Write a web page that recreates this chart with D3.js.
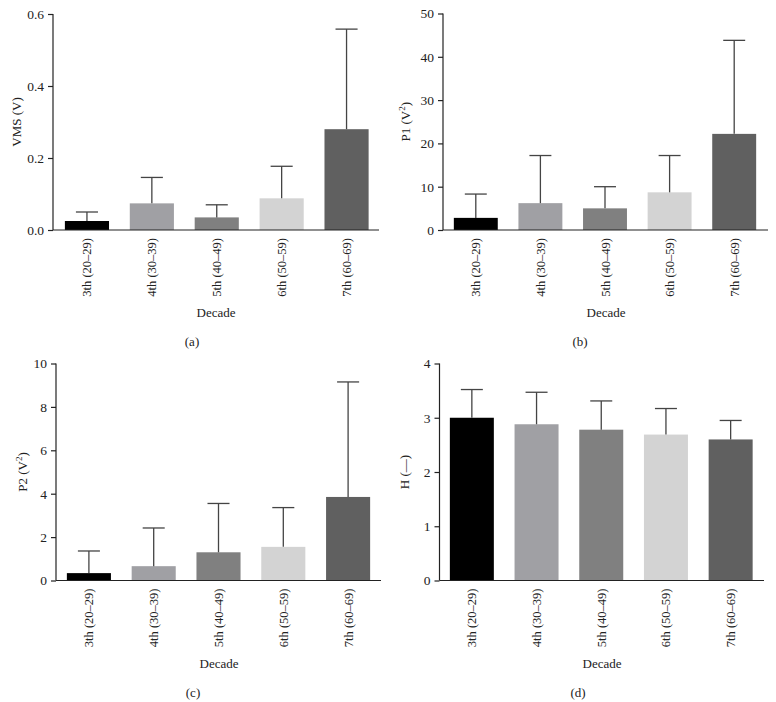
<!DOCTYPE html>
<html><head><meta charset="utf-8">
<script src="https://cdn.jsdelivr.net/npm/d3@7"></script>
<style>
body{margin:0;background:#fff;}
svg{display:block;font-family:"Liberation Serif","Times New Roman",serif;}
</style></head>
<body><svg id="c" width="776" height="702"></svg>
<script>
const categories = ["3th (20–29)", "4th (30–39)", "5th (40–49)", "6th (50–59)", "7th (60–69)"];
const barColors = ["#000000", "#a0a0a4", "#808080", "#d3d3d3", "#606060"];

const vmsMean = [0.025, 0.074, 0.035, 0.088, 0.28];
const vmsSD   = [0.025, 0.072, 0.035, 0.089, 0.278];
const vmsTicks = [0, 0.2, 0.4, 0.6];

const p1Mean = [2.8, 6.2, 5.0, 8.7, 22.2];
const p1SD   = [5.5, 11.0, 5.0, 8.5, 21.6];
const p1Ticks = [0, 10, 20, 30, 40, 50];

const p2Mean = [0.34, 0.66, 1.30, 1.55, 3.85];
const p2SD   = [1.02, 1.76, 2.25, 1.81, 5.3];
const p2Ticks = [0, 2, 4, 6, 8, 10];

const hMean = [3.0, 2.88, 2.78, 2.69, 2.60];
const hSD   = [0.52, 0.59, 0.53, 0.48, 0.35];
const hTicks = [0, 1, 2, 3, 4];

const svg = d3.select("#c");
const ink = "#222";

function panel(cfg) {
  const g = svg.append("g");
  const y = d3.scaleLinear().domain([0, cfg.max]).range([cfg.bottom, cfg.top]);
  const x = d3.scaleBand().domain(categories).range([cfg.bandStart, cfg.bandEnd])
    .paddingInner(0.32).paddingOuter(0.16);
  const data = categories.map((c, i) => ({c, m: cfg.mean[i], s: cfg.sd[i], col: barColors[i]}));

  // bars
  g.selectAll("rect.bar").data(data).enter().append("rect")
    .attr("x", d => x(d.c)).attr("width", x.bandwidth())
    .attr("y", d => y(d.m)).attr("height", d => y(0) - y(d.m))
    .attr("fill", d => d.col);

  // error bars
  const cap = x.bandwidth() / 2;
  g.selectAll("line.err").data(data).enter().append("line")
    .attr("x1", d => x(d.c) + x.bandwidth() / 2).attr("x2", d => x(d.c) + x.bandwidth() / 2)
    .attr("y1", d => y(d.m)).attr("y2", d => y(d.m + d.s))
    .attr("stroke", "#444").attr("stroke-width", 1.3);
  g.selectAll("line.cap").data(data).enter().append("line")
    .attr("x1", d => x(d.c) + x.bandwidth() / 2 - cap / 2).attr("x2", d => x(d.c) + x.bandwidth() / 2 + cap / 2)
    .attr("y1", d => y(d.m + d.s)).attr("y2", d => y(d.m + d.s))
    .attr("stroke", "#444").attr("stroke-width", 1.3);

  // y axis
  const ya = d3.axisLeft(y).tickValues(cfg.ticks).tickSize(5).tickPadding(4).tickFormat(cfg.fmt);
  const yg = g.append("g").attr("transform", `translate(${cfg.axisX},0)`).call(ya);
  yg.attr("font-family", null);
  yg.select(".domain").attr("d", `M0,${cfg.bottom}V${cfg.top}`).attr("stroke", ink).attr("stroke-width", 1.2);
  yg.selectAll(".tick line").attr("stroke", ink).attr("stroke-width", 1.2);
  yg.selectAll(".tick text").attr("font-size", 13.5).attr("fill", ink)
    .attr("font-family", "Liberation Serif, serif");

  // x axis line
  g.append("line").attr("x1", cfg.axisX).attr("x2", cfg.xEnd)
    .attr("y1", cfg.bottom).attr("y2", cfg.bottom).attr("stroke", ink).attr("stroke-width", 1.2);

  // x tick labels (rotated)
  g.selectAll("text.xl").data(data).enter().append("text")
    .attr("transform", d => `translate(${x(d.c) + x.bandwidth() / 2 + 4.5},${cfg.bottom + 8}) rotate(-90)`)
    .attr("text-anchor", "end").attr("font-size", 12.5).attr("fill", ink)
    .text(d => d.c);

  // x title
  g.append("text").attr("x", cfg.decX).attr("y", cfg.bottom + 87)
    .attr("text-anchor", "middle").attr("font-size", 13).attr("fill", ink).text("Decade");
  // panel letter
  g.append("text").attr("x", cfg.letX).attr("y", cfg.bottom + 116)
    .attr("text-anchor", "middle").attr("font-size", 13).attr("fill", ink).text(cfg.letter);

  // y title
  const yt = g.append("text")
    .attr("transform", `translate(${cfg.yLabX},${(cfg.top + cfg.bottom) / 2}) rotate(-90)`)
    .attr("text-anchor", "middle").attr("font-size", 13).attr("fill", ink);
  yt.append("tspan").text(cfg.yLabel[0]);
  if (cfg.yLabel.length > 1) {
    yt.append("tspan").attr("dy", -5).attr("font-size", 9).text(cfg.yLabel[1]);
    yt.append("tspan").attr("dy", 5).text(cfg.yLabel[2]);
  }
}

panel({mean: vmsMean, sd: vmsSD, max: 0.6, ticks: vmsTicks, fmt: d3.format(".1f"),
  axisX: 53, top: 14, bottom: 230, xEnd: 379, bandStart: 54.5, bandEnd: 379,
  decX: 216, letX: 192, yLabX: 21, yLabel: ["VMS (V)"], letter: "(a)"});

panel({mean: p1Mean, sd: p1SD, max: 50, ticks: p1Ticks, fmt: d3.format("d"),
  axisX: 443, top: 13.5, bottom: 230, xEnd: 768, bandStart: 443.5, bandEnd: 766.5,
  decX: 606, letX: 580, yLabX: 410, yLabel: ["P1 (V", "2", ")"], letter: "(b)"});

panel({mean: p2Mean, sd: p2SD, max: 10, ticks: p2Ticks, fmt: d3.format("d"),
  axisX: 56, top: 363.5, bottom: 580.5, xEnd: 381, bandStart: 56.5, bandEnd: 380.5,
  decX: 219, letX: 193, yLabX: 27, yLabel: ["P2 (V", "2", ")"], letter: "(c)"});

panel({mean: hMean, sd: hSD, max: 4, ticks: hTicks, fmt: d3.format("d"),
  axisX: 439.5, top: 363.5, bottom: 580.5, xEnd: 764, bandStart: 439.5, bandEnd: 763,
  decX: 602, letX: 578, yLabX: 409, yLabel: ["H (—)"], letter: "(d)"});
</script>
</body></html>
